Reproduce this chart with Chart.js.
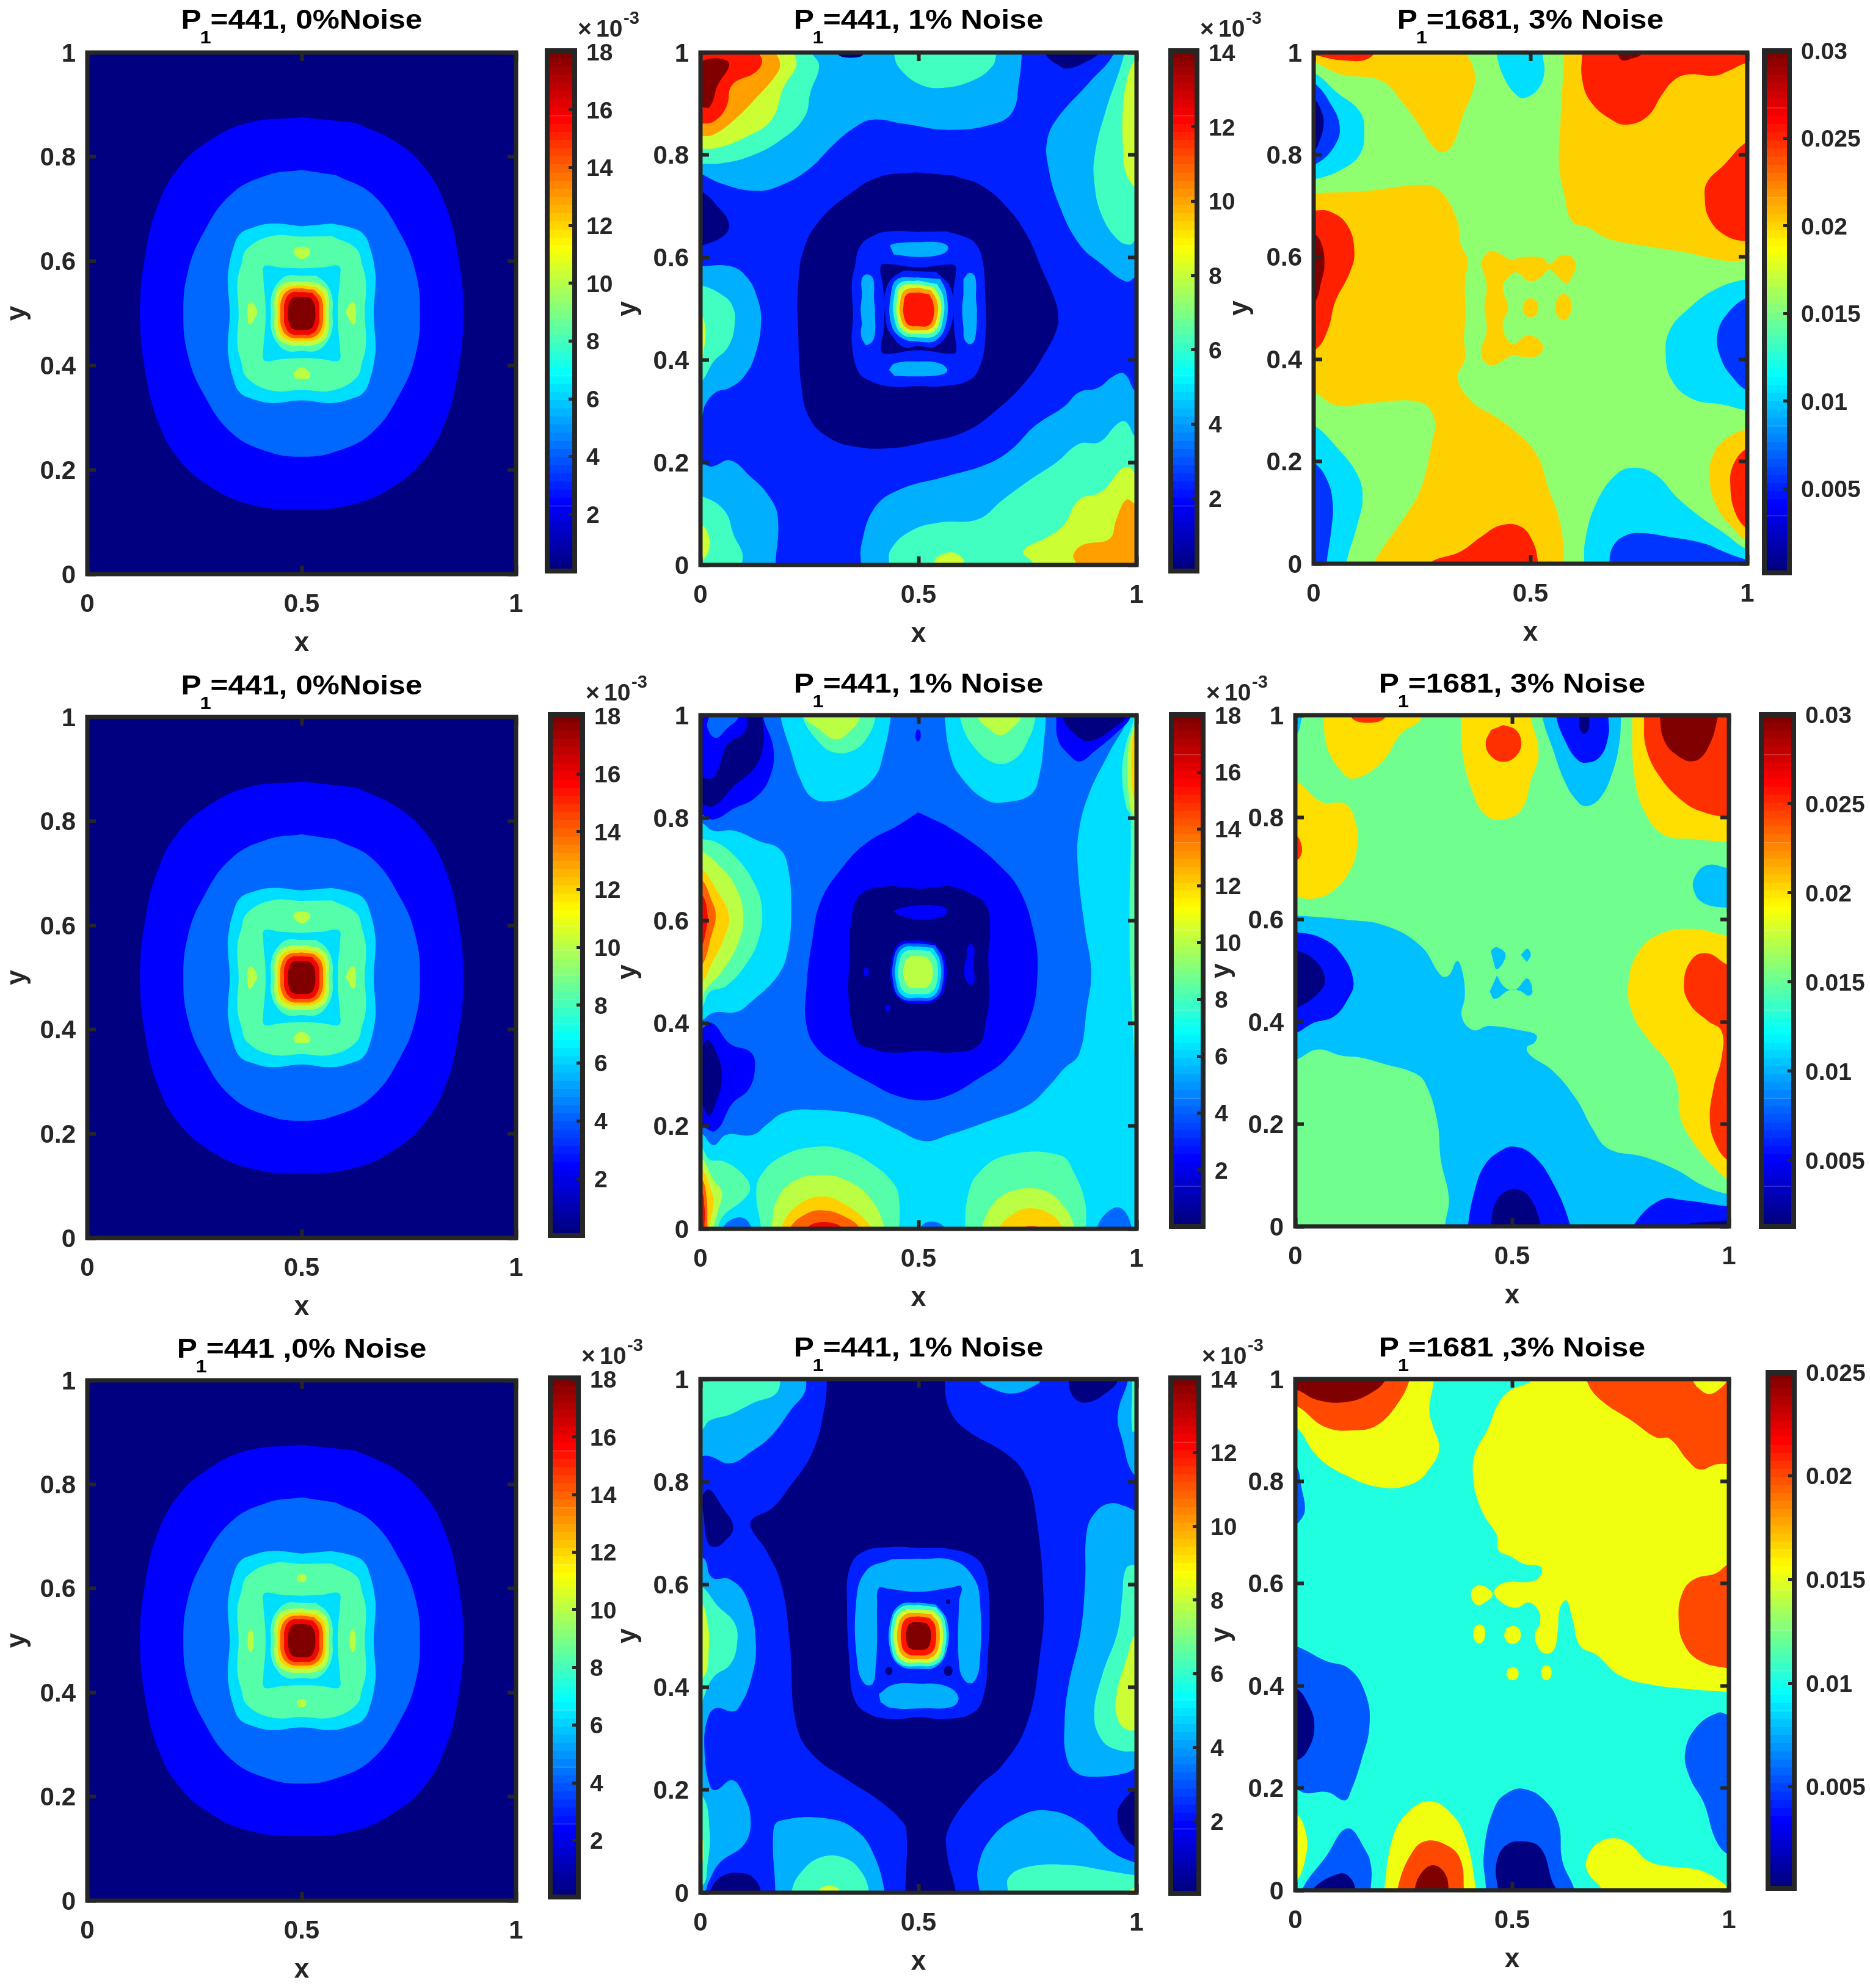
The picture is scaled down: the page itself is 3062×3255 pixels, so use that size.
<!DOCTYPE html>
<html><head><meta charset="utf-8">
<style>html,body{margin:0;padding:0;background:#fff}#page{position:relative;width:3062px;height:3255px;overflow:hidden}canvas{position:absolute}</style>
<script src="https://cdn.jsdelivr.net/npm/chart.js@4/dist/chart.umd.js"></script>
</head><body><div id="page"></div>
<script>
// ---------- tick labels ----------
const xTicks=[0,0.5,1];
const yTicks=[0,0.2,0.4,0.6,0.8,1];
const barTicksA=[2,4,6,8,10,12,14,16,18];
const barTicksB=[2,4,6,8,10,12,14];
const barTicksC=[0.005,0.01,0.015,0.02,0.025,0.03];
const barTicksD=[0.005,0.01,0.015,0.02,0.025];
// ---------- titles: text before subscript, subscript, text after ----------
const titles=[
 ['P','1','=441, 0%Noise'],['P','1','=441, 1% Noise'],['P','1','=1681, 3% Noise'],
 ['P','1','=441, 0%Noise'],['P','1','=441, 1% Noise'],['P','1','=1681, 3% Noise'],
 ['P','1','=441 ,0% Noise'],['P','1','=441, 1% Noise'],['P','1','=1681 ,3% Noise']];
// ---------- contour level colours ----------
const colorsA=['#000080','#0000ff','#0068ff','#00deff','#55ffaa','#bbff44','#ffd000','#ff6000','#f00800','#800000'];
const colorsB=['#000080','#0020ff','#00b0ff','#40ffc0','#ccff33','#ff9f00','#ff1500','#800000'];
const colorsC=['#000080','#0034ff','#00dfff','#90ff6f','#ffd000','#ff2000','#800000'];
const colorsF=['#000080','#0010ff','#00c0ff','#70ff8f','#ffdf00','#ff3000','#800000'];
const colorsI=['#000080','#0058ff','#20ffdf','#f0ff10','#ff4800','#800000'];

function dot(cx,cy,rx,ry){const a=.72;return [cx,cy+ry,cx+a*rx,cy+a*ry,cx+rx,cy,cx+a*rx,cy-a*ry,cx,cy-ry,cx-a*rx,cy-a*ry,cx-rx,cy,cx-a*rx,cy+a*ry];}
function mirror4(q){const p=[];for(let i=0;i<q.length;i+=2)p.push([q[i],q[i+1]]);
 const ll=p.slice(0,-1).reverse().map(([x,y])=>[x,1-y]);
 const lr=p.slice(1).map(([x,y])=>[1-x,1-y]);
 const ur=p.slice(1,-1).reverse().map(([x,y])=>[1-x,y]);
 return p.concat(ll,lr,ur).flat();}

// ---------- noise-free field: quarter outlines (top centre to left centre) ----------
const q1=[.5,.876,.374,.865,.277,.827,.21,.776,.167,.712,.138,.625,.123,.5];
const q2=[.5,.775,.42,.765,.335,.728,.268,.65,.234,.578,.224,.5];
const q3=[.5,.667,.43,.672,.385,.664,.356,.652,.34,.624,.329,.582,.328,.554,.332,.5];
const q4=[.5,.647,.43,.648,.373,.624,.359,.593,.35,.558,.353,.5];
const q4hole=[.5,.586,.45,.588,.418,.592,.41,.587,.41,.574,.416,.5];
const q4in=[.5,.572,.466,.572,.442,.556,.429,.531,.428,.5];
const q5=[.5,.562,.461,.558,.44,.541,.437,.5];
const q6=[.5,.554,.466,.55,.448,.535,.444,.5];
const q7=[.5,.548,.471,.545,.454,.529,.45,.5];
const q8=[.5,.541,.475,.539,.461,.523,.459,.5];
const q9=[.5,.532,.48,.53,.471,.519,.468,.5];
const baseRings=[[1,mirror4(q1)],[2,mirror4(q2)],[3,mirror4(q3)],[4,mirror4(q4)],[3,mirror4(q4hole)]];
const coreRings=[[4,mirror4(q4in)],[5,mirror4(q5)],[6,mirror4(q6)],[7,mirror4(q7)],[8,mirror4(q8)],[9,mirror4(q9)]];
const bigSpots=[
 [5,[.48,.616,.485,.625,.515,.625,.52,.616,.51,.607,.5,.604,.49,.607]],
 [5,[.48,.384,.49,.393,.5,.396,.51,.393,.52,.384,.515,.375,.485,.375]],
 [5,[.373,.5,.376,.518,.383,.522,.396,.503,.39,.49,.38,.478,.375,.482]],
 [5,[.627,.5,.624,.518,.617,.522,.604,.503,.61,.49,.62,.478,.625,.482]]];
const smallSpots=[[5,dot(.5,.62,.011,.008)],[5,dot(.5,.38,.011,.008)],[5,dot(.381,.5,.007,.023)],[5,dot(.619,.5,.007,.023)]];
const field1=[...baseRings,...bigSpots,...coreRings];
const field4=field1;
const field7=[...baseRings,...smallSpots,...coreRings];

// ---------- panel 2 ----------
const field2=[
 [2,[0,.764,.049,.744,.125,.73,.182,.74,.248,.772,.305,.82,.352,.853,.395,.869,.465,.861,.57,.849,.674,.861,.716,.885,.73,.941,.737,.998,.737,1.03,-.03,1.03,-.03,.764]],
 [3,[0,.783,.049,.784,.115,.798,.182,.828,.238,.873,.253,.925,.272,.973,.257,.996,.22,1.03,-.03,1.03,-.03,.783]],
 [4,[0,.812,.04,.814,.106,.836,.163,.869,.191,.933,.219,.973,.215,1.0,.205,1.03,-.03,1.03,-.03,.812]],
 [5,[0,.836,.03,.84,.078,.869,.125,.909,.177,.961,.182,.981,.172,1.0,.16,1.03,-.03,1.03,-.03,.836]],
 [6,[0,.861,.03,.865,.059,.893,.073,.937,.125,.961,.141,.981,.134,1.0,.125,1.03,-.03,1.03,-.03,.861]],
 [7,[-.03,.894,0,.894,.021,.894,.04,.937,.066,.977,.044,.988,.011,.986,0,.981,-.03,.981]],
 [0,[.31,1.03,.314,.998,.345,.99,.375,.998,.375,1.03]],
 [3,[.444,1.03,.444,.998,.456,.97,.503,.938,.555,.931,.626,.946,.669,.973,.678,.998,.678,1.03]],
 [0,[.785,1.03,.792,.996,.825,.973,.844,.969,.882,.981,.915,1.0,.925,1.03]],
 [2,[.948,1.03,.948,.998,.891,.941,.816,.869,.795,.828,.797,.78,.82,.708,.868,.627,.92,.587,.976,.553,1,.562,1.03,.562,1.03,1.03]],
 [3,[.972,1.03,.972,.998,.929,.885,.905,.804,.903,.748,.92,.683,.957,.635,.986,.625,1,.635,1.03,.635,1.03,1.03]],
 [4,[1,1.03,1,.998,.981,.957,.969,.893,.969,.812,.976,.764,1,.736,1.03,.736,1.03,1.03]],
 [0,[-.03,.73,0,.73,.04,.699,.065,.667,.054,.643,0,.623,-.03,.623]],
 [2,[-.03,.583,0,.583,.068,.583,.106,.562,.13,.522,.139,.474,.125,.409,.101,.369,.068,.346,.035,.337,.011,.313,0,.288,-.03,.288]],
 [3,[-.03,.546,0,.546,.044,.53,.073,.506,.078,.466,.063,.425,.03,.397,0,.357,-.03,.357]],
 [4,[-.03,.49,0,.49,.011,.458,.007,.417,0,.401,-.03,.401]],
 [2,[-.03,.2,0,.2,.026,.192,.068,.204,.115,.172,.153,.139,.177,.095,.172,0,.172,-.03,-.03,-.03]],
 [3,[-.03,.135,0,.135,.054,.107,.078,.055,.096,.023,.095,0,.095,-.03,-.03,-.03]],
 [4,[-.03,.079,0,.079,.016,.063,.021,.035,0,.006,-.03,.006]],
 [2,[.368,-.03,.368,0,.369,.039,.399,.111,.456,.147,.56,.172,.655,.196,.711,.224,.768,.272,.834,.309,.868,.337,.91,.345,.948,.369,.972,.373,1,.337,1.03,.337,1.03,-.03]],
 [3,[.432,-.03,.432,0,.437,.031,.484,.067,.551,.083,.636,.089,.693,.127,.759,.168,.816,.2,.868,.236,.915,.24,.957,.276,.976,.279,1,.248,1.03,.248,1.03,-.03]],
 [4,[.763,-.03,.763,.002,.74,.027,.797,.055,.834,.079,.868,.127,.92,.143,.967,.188,.986,.19,1,.176,1.03,.176,1.03,-.03]],
 [4,[.536,-.03,.536,.006,.555,.021,.584,.023,.605,.006,.605,-.03]],
 [5,[.863,-.03,.863,0,.855,.019,.877,.039,.938,.051,.953,.087,.976,.127,1,.119,1.03,.119,1.03,-.03]],
 [0,[.494,.766,.409,.757,.342,.724,.276,.675,.238,.619,.224,.546,.224,.458,.231,.353,.249,.288,.295,.248,.361,.23,.437,.228,.513,.239,.607,.26,.683,.305,.749,.361,.787,.409,.816,.458,.82,.49,.811,.522,.782,.579,.749,.643,.702,.699,.645,.74,.579,.76]],
 [1,[.499,.65,.438,.651,.4,.644,.366,.622,.354,.582,.347,.55,.35,.486,.347,.435,.361,.379,.387,.36,.438,.348,.499,.349,.555,.349,.615,.36,.639,.384,.653,.439,.653,.527,.646,.598,.629,.629,.606,.64,.564,.651]],
 [2,[.367,.499,.37,.527,.37,.558,.382,.567,.396,.558,.398,.518,.4,.494,.398,.443,.382,.429,.373,.437,.368,.45,.37,.471]],
 [2,[.603,.558,.617,.57,.63,.562,.632,.518,.634,.494,.63,.443,.62,.431,.606,.439,.603,.463,.6,.499,.603,.527]],
 [2,[.434,.624,.452,.628,.499,.63,.55,.629,.568,.62,.555,.607,.499,.601,.443,.606]],
 [2,[.432,.381,.445,.393,.499,.397,.55,.393,.566,.379,.55,.371,.499,.368,.445,.369]],
 [0,[.414,.586,.424,.588,.499,.581,.578,.586,.586,.578,.58,.534,.582,.459,.587,.419,.58,.412,.499,.419,.422,.412,.414,.421,.421,.467,.42,.534,.412,.574]],
 [1,[.499,.573,.461,.572,.426,.54,.426,.471,.436,.451,.466,.425,.499,.427,.541,.427,.576,.471,.575,.538,.541,.572]],
 [2,[.499,.561,.452,.558,.437,.53,.437,.471,.461,.443,.499,.436,.541,.439,.564,.475,.564,.53,.55,.558]],
 [3,[.499,.555,.457,.55,.444,.523,.444,.483,.461,.451,.499,.444,.541,.449,.557,.483,.557,.523,.543,.548]],
 [4,[.499,.548,.461,.544,.451,.518,.451,.483,.466,.457,.499,.451,.536,.456,.55,.483,.55,.518,.536,.542]],
 [5,[.499,.541,.469,.536,.458,.514,.458,.487,.471,.463,.499,.458,.531,.463,.543,.487,.543,.514,.529,.536]],
 [6,[.499,.532,.473,.528,.466,.51,.467,.483,.478,.468,.499,.466,.522,.467,.534,.483,.534,.51,.525,.528]]
];

// ---------- panel 3 ----------
const field3=[
 [4,[.578,1.03,.578,1,.569,.86,.566,.779,.578,.723,.596,.67,.633,.658,.679,.636,.761,.622,.853,.61,.954,.592,1,.594,1.03,.594,1.03,1.03]],
 [5,[.619,1.03,.619,.998,.619,.949,.638,.905,.688,.868,.725,.859,.771,.876,.803,.917,.83,.945,.862,.957,.927,.955,.959,.965,1,.98,1.03,.98,1.03,1.03]],
 [6,[.7,1.03,.702,.998,.711,.985,.729,.987,.757,.998,.77,1.03]],
 [5,[1.03,.826,1,.826,.945,.779,.908,.747,.902,.715,.913,.674,.95,.642,1,.63,1.03,.63]],
 [4,[-.03,.981,0,.981,.064,.957,.156,.945,.206,.901,.248,.852,.275,.816,.298,.805,.321,.82,.344,.876,.372,.941,.367,.973,.353,1,.353,1.03,-.03,1.03]],
 [5,[-.03,.995,0,.995,.064,.985,.13,.99,.145,1.03,-.03,1.03]],
 [2,[-.03,.961,0,.961,.055,.921,.106,.885,.117,.844,.106,.8,.064,.771,.007,.753,-.03,.75]],
 [1,[-.03,.941,0,.941,.041,.897,.06,.856,.05,.82,.009,.784,-.03,.78]],
 [0,[-.03,.909,0,.909,.018,.885,.023,.86,.014,.828,0,.808,-.03,.808]],
 [2,[.422,1.03,.422,.998,.44,.949,.468,.917,.486,.911,.518,.929,.532,.961,.528,.998,.528,1.03]],
 [4,[-.03,.725,0,.725,.119,.729,.257,.741,.294,.727,.33,.674,.339,.626,.355,.594,.349,.553,.35,.489,.347,.44,.349,.4,.332,.363,.367,.315,.413,.291,.459,.263,.514,.214,.541,.149,.569,.077,.578,0,.578,-.03,.138,-.03,.138,0,.211,.093,.248,.149,.275,.246,.28,.279,.248,.315,.138,.315,.055,.309,0,.335,-.03,.335]],
 [5,[-.03,.691,0,.691,.037,.689,.078,.662,.094,.61,.083,.569,.05,.513,.032,.456,.005,.42,-.03,.42]],
 [6,[-.03,.646,0,.646,.018,.626,.025,.586,.018,.553,0,.509,-.03,.509]],
 [4,[.39,.598,.408,.612,.431,.606,.454,.595,.486,.6,.528,.598,.543,.586,.569,.602,.592,.602,.604,.586,.598,.565,.583,.549,.56,.565,.543,.576,.523,.56,.497,.553,.468,.57,.45,.561,.436,.541,.448,.501,.436,.464,.459,.43,.495,.447,.528,.428,.519,.408,.486,.404,.459,.408,.413,.388,.39,.4,.387,.42,.399,.456,.394,.505,.399,.545,.385,.586]],
 [4,dot(.5,.501,.018,.019)],
 [4,dot(.576,.503,.018,.026)],
 [2,[-.03,.271,0,.271,.055,.226,.101,.174,.113,.129,.101,.077,.075,0,.075,-.03,-.03,-.03]],
 [1,[-.03,.198,0,.198,.032,.162,.044,.117,.041,.069,.03,0,.03,-.03,-.03,-.03]],
 [5,[.266,-.03,.266,0,.339,.024,.385,.052,.431,.075,.477,.073,.505,.044,.518,0,.518,-.03]],
 [2,[1.03,.557,1,.557,.927,.537,.862,.497,.821,.456,.812,.408,.826,.359,.872,.323,.945,.311,1,.3,1.03,.3]],
 [1,[1.03,.521,1,.521,.954,.489,.931,.448,.94,.4,.968,.363,1,.339,1.03,.339]],
 [4,[1.03,.263,1,.263,.954,.246,.922,.214,.913,.166,.931,.109,.968,.069,1,.044,1.03,.044]],
 [5,[1.03,.226,1,.226,.968,.194,.961,.153,.972,.101,1,.069,1.03,.069]],
 [2,[.624,-.03,.624,0,.626,.044,.651,.117,.697,.174,.739,.188,.789,.174,.839,.129,.89,.093,.945,.061,1,.028,1.03,.028,1.03,-.03]],
 [1,[.682,-.03,.682,0,.689,.032,.716,.054,.752,.06,.817,.053,.899,.04,.945,.024,1,.008,1.03,.008,1.03,-.03]]
];

// ---------- panel 5 ----------
const field5=[
 [3,[-.03,.187,0,.187,.03,.163,.059,.183,.12,.183,.153,.204,.191,.226,.257,.232,.38,.22,.447,.195,.513,.171,.57,.183,.655,.208,.75,.24,.797,.276,.834,.312,.868,.34,.886,.429,.896,.501,.882,.582,.865,.71,.868,.775,.891,.847,.938,.928,.981,.996,.981,1.03,1.03,1.03,1.03,-.03,-.03,-.03]],
 [4,[.995,1.03,.995,.996,.976,.944,.967,.887,.976,.823,.986,.803,.984,.614,.986,.485,.997,.316,1,.292,1.03,.292,1.03,1.03]],
 [5,[1,1.03,1,.996,.981,.936,.981,.855,.995,.803,1.03,.803,1.03,1.03]],
 [6,[1,1.03,1,.992,.99,.952,.99,.863,1,.831,1.03,.831,1.03,1.03]],
 [3,[.184,1.03,.184,.996,.205,.936,.229,.875,.257,.839,.3,.833,.352,.847,.399,.879,.418,.919,.437,1,.437,1.03]],
 [4,[.234,1.03,.234,.996,.267,.952,.304,.928,.352,.932,.385,.96,.401,.996,.401,1.03]],
 [5,[.238,1.03,.238,.996,.267,.976,.309,.953,.342,.968,.366,.996,.366,1.03]],
 [3,[.56,1.03,.56,.996,.574,.919,.598,.879,.655,.835,.702,.831,.759,.847,.778,.887,.787,.944,.792,.996,.792,1.03]],
 [4,[.595,1.03,.595,.996,.622,.944,.674,.907,.721,.915,.754,.956,.768,.996,.768,1.03]],
 [5,[.636,1.03,.636,.996,.664,.972,.688,.961,.716,.976,.735,.996,.735,1.03]],
 [3,[-.03,.791,0,.791,.03,.775,.078,.775,.134,.755,.182,.739,.201,.702,.208,.622,.2,.541,.177,.493,.115,.441,.082,.422,.03,.421,0,.405,-.03,.405]],
 [4,[-.03,.759,0,.759,.04,.751,.087,.718,.125,.67,.141,.622,.134,.566,.106,.517,.059,.473,.021,.461,0,.429,-.03,.429]],
 [5,[-.03,.735,0,.735,.04,.71,.078,.67,.098,.614,.087,.558,.049,.501,.011,.465,0,.445,-.03,.445]],
 [6,[-.03,.702,0,.702,.035,.662,.065,.61,.054,.566,.026,.517,0,.477,-.03,.477]],
 [7,[-.03,.682,0,.682,.026,.638,.035,.61,.026,.574,0,.509,-.03,.509]],
 [8,[-.03,.654,0,.654,.016,.614,.011,.574,0,.55,-.03,.55]],
 [1,[.144,1.03,.144,.996,.167,.936,.159,.879,.125,.839,.078,.819,.03,.797,0,.807,-.03,.807,-.03,1.03]],
 [0,[-.03,.827,0,.827,.03,.823,.078,.863,.125,.899,.144,.944,.142,.996,.142,1.03,.106,1.03,.106,.996,.102,.968,.063,.944,.044,.904,.03,.879,0,.878,-.03,.878]],
 [2,[.019,1.03,.019,.996,.016,.976,.035,.956,.063,.976,.087,.996,.087,1.03]],
 [1,[-.03,.389,0,.389,.026,.401,.068,.36,.115,.344,.125,.316,.111,.272,.073,.244,.035,.191,0,.2,-.03,.2]],
 [0,[-.03,.352,0,.352,.016,.368,.04,.336,.049,.292,.035,.244,.019,.22,0,.244,-.03,.244]],
 [1,[.816,1.03,.816,.996,.82,.952,.844,.924,.87,.91,.901,.928,.957,.968,.986,.996,.986,1.03]],
 [0,[.83,1.03,.83,.996,.863,.96,.896,.95,.962,.984,.976,.996,.976,1.03]],
 [1,[.499,.811,.456,.787,.38,.751,.324,.702,.276,.638,.257,.566,.243,.469,.243,.397,.267,.352,.324,.316,.39,.284,.447,.26,.513,.25,.57,.26,.636,.292,.702,.332,.754,.405,.773,.501,.763,.582,.73,.662,.683,.71,.626,.751,.56,.787]],
 [0,[.503,.662,.418,.666,.366,.65,.347,.606,.342,.533,.341,.437,.361,.364,.39,.352,.437,.343,.513,.347,.57,.343,.636,.356,.655,.405,.662,.453,.66,.533,.664,.582,.655,.63,.617,.654,.57,.668]],
 [1,[.442,.618,.456,.624,.503,.63,.56,.626,.565,.616,.551,.607,.503,.602,.456,.61]],
 [1,[.619,.558,.628,.545,.626,.517,.628,.481,.619,.475,.607,.489,.605,.509,.611,.529,.611,.545]],
 [1,dot(.38,.5,.006,.009)],[1,dot(.43,.43,.006,.006)],[1,dot(.499,.961,.006,.012)],
 [1,[.499,.562,.456,.556,.439,.525,.439,.473,.461,.445,.499,.438,.536,.443,.56,.469,.56,.53,.536,.556]],
 [2,[.499,.556,.46,.552,.443,.525,.443,.475,.46,.449,.499,.444,.538,.449,.555,.475,.555,.525,.538,.552]],
 [3,[.499,.55,.465,.547,.449,.522,.449,.478,.465,.453,.499,.45,.533,.453,.549,.478,.549,.522,.533,.547]],
 [4,[.499,.543,.47,.54,.456,.52,.456,.48,.47,.46,.499,.457,.528,.46,.542,.48,.542,.52,.528,.54]],
 [5,[.499,.531,.478,.529,.467,.512,.467,.487,.478,.471,.499,.469,.52,.471,.531,.487,.531,.512,.52,.529]],
 [4,[-.03,.159,0,.159,.021,.135,.054,.131,.096,.107,.114,.079,.096,.055,.054,.027,.04,0,.04,-.03,-.03,-.03]],
 [5,[-.03,.139,0,.139,.03,.095,.049,.071,.04,.035,.03,0,.03,-.03,-.03,-.03]],
 [6,[-.03,.119,0,.119,.021,.083,.03,.051,.019,0,.019,-.03,-.03,-.03]],
 [7,[-.03,.099,0,.099,.013,.067,.016,0,.016,-.03,-.03,-.03]],
 [8,[-.03,.075,0,.075,.009,.043,.009,0,.009,-.03,-.03,-.03]],
 [4,[.139,-.03,.139,0,.128,.075,.144,.111,.191,.143,.257,.159,.324,.155,.399,.123,.447,.083,.456,.051,.456,0,.456,-.03]],
 [5,[.163,-.03,.163,0,.177,.059,.219,.095,.276,.105,.333,.095,.39,.059,.423,0,.423,-.03]],
 [6,[.184,-.03,.184,0,.219,.043,.276,.063,.333,.047,.394,0,.394,-.03]],
 [7,[.205,-.03,.205,0,.238,.027,.281,.036,.333,.023,.366,0,.366,-.03]],
 [8,[.243,-.03,.243,0,.281,.013,.328,0,.328,-.03]],
 [4,[.607,-.03,.607,0,.612,.059,.636,.107,.702,.143,.825,.143,.858,.107,.882,.051,.884,0,.884,-.03]],
 [5,[.645,-.03,.645,0,.674,.051,.721,.075,.787,.075,.834,.043,.858,0,.858,-.03]],
 [6,[.683,-.03,.683,0,.721,.031,.759,.04,.806,.027,.83,0,.83,-.03]],
 [7,[.74,-.03,.74,0,.759,.006,.778,0,.778,-.03]],
 [2,[.051,-.03,.051,0,.073,.019,.101,.02,.117,0,.117,-.03]],
 [2,[.503,-.03,.503,0,.527,.014,.56,.002,.56,-.03]],
 [2,[.908,-.03,.908,0,.938,.036,.967,.039,.99,0,.99,-.03]]
];

// ---------- panel 6 ----------
const field6=[
 [2,[-.03,.608,0,.608,.116,.6,.208,.588,.29,.548,.336,.491,.354,.491,.373,.519,.385,.499,.391,.451,.384,.41,.41,.384,.446,.392,.529,.382,.556,.374,.552,.36,.534,.35,.543,.334,.593,.305,.648,.249,.685,.192,.722,.152,.804,.136,.878,.111,.942,.079,1,.063,1.03,.063,1.03,-.03,.345,-.03,.345,0,.354,.055,.336,.128,.327,.208,.299,.281,.272,.301,.208,.317,.152,.33,.107,.334,.051,.346,0,.326,-.03,.326]],
 [1,[-.03,.576,0,.576,.061,.564,.107,.532,.134,.479,.12,.443,.088,.41,.042,.398,0,.378,-.03,.378]],
 [0,[-.03,.54,0,.54,.042,.523,.068,.487,.056,.459,0,.426,-.03,.426]],
 [1,[.398,-.03,.398,0,.414,.071,.437,.12,.474,.148,.506,.156,.547,.14,.593,.087,.635,0,.635,-.03]],
 [0,[.451,-.03,.451,0,.465,.051,.501,.073,.538,.059,.567,0,.567,-.03]],
 [1,[.779,-.03,.779,0,.841,.051,.896,.051,1,.039,1.03,.039,1.03,-.03]],
 [0,[.905,-.03,.905,.002,.942,.008,1,.012,1.03,.012,1.03,-.03]],
 [2,[-.03,1.03,.015,1.03,.012,.983,0,.961,-.03,.96]],
 [4,[.065,1.03,.065,.996,.074,.936,.102,.895,.134,.876,.198,.907,.244,.964,.29,.992,.3,1.03]],
 [5,[.129,1.03,.129,.996,.166,.985,.208,.996,.208,1.03]],
 [4,[-.03,.872,0,.872,.061,.83,.116,.826,.139,.79,.143,.75,.129,.701,.088,.657,.042,.641,0,.645,-.03,.645]],
 [5,[-.03,.766,0,.766,.015,.742,.01,.721,0,.717,-.03,.717]],
 [4,[.382,1.03,.382,.996,.387,.919,.41,.847,.437,.806,.474,.796,.52,.814,.543,.871,.561,.927,.543,.996,.543,1.03]],
 [5,[.48,.981,.509,.971,.521,.945,.509,.92,.48,.909,.451,.92,.439,.945,.451,.971]],
 [2,[.57,1.03,.57,.996,.593,.936,.621,.871,.648,.834,.671,.822,.703,.838,.731,.887,.747,.944,.751,.996,.751,1.03]],
 [1,[.602,1.03,.602,.996,.621,.952,.648,.915,.671,.907,.703,.919,.722,.96,.722,.996,.722,1.03]],
 [0,[.655,1.03,.655,.996,.657,.972,.666,.964,.676,.972,.678,.996,.678,1.03]],
 [4,[.777,1.03,.777,.996,.781,.887,.804,.814,.85,.766,.915,.758,1,.752,1.03,.752,1.03,1.03]],
 [5,[.804,1.03,.804,.996,.809,.936,.841,.879,.896,.83,.942,.81,1,.8,1.03,.8,1.03,1.03]],
 [6,[.841,1.03,.841,.996,.85,.952,.878,.923,.919,.91,.951,.935,.974,.996,.974,1.03]],
 [2,[1.03,.701,1,.701,.951,.707,.922,.685,.919,.657,.942,.632,1,.623,1.03,.623]],
 [4,[1.03,.568,1,.568,.915,.582,.841,.572,.791,.536,.768,.475,.777,.418,.814,.366,.859,.321,.882,.273,.887,.216,.915,.168,.961,.12,1,.091,1.03,.091]],
 [5,[1.03,.511,1,.511,.951,.534,.915,.523,.896,.475,.91,.435,.951,.402,.983,.382,.983,.33,.965,.273,.956,.208,.97,.16,1,.128,1.03,.128]],
 [2,[.451,.54,.465,.546,.485,.531,.465,.503,.454,.527]],
 [2,[.52,.531,.535,.543,.543,.531,.534,.517]],
 [2,[.465,.491,.48,.47,.495,.463,.51,.464,.535,.485,.547,.459,.538,.451,.52,.46,.505,.463,.49,.461,.46,.445,.448,.459]]
];

// ---------- panel 8 ----------
const field8=[
 [0,[.29,1.03,.29,1,.285,.947,.257,.858,.2,.785,.163,.748,.12,.728,.115,.712,.153,.663,.186,.598,.205,.485,.219,.33,.257,.269,.342,.217,.409,.18,.465,.136,.473,.111,.47,0,.47,-.03,.586,-.03,.586,0,.565,.079,.57,.127,.636,.205,.693,.249,.749,.33,.778,.46,.787,.566,.768,.744,.745,.813,.702,.854,.607,.903,.57,.943,.56,1,.56,1.03]],
 [1,[.503,.671,.437,.673,.371,.663,.342,.631,.336,.566,.342,.444,.352,.379,.38,.351,.437,.338,.503,.342,.56,.338,.626,.351,.65,.387,.659,.46,.662,.566,.65,.631,.617,.659,.56,.671]],
 [2,[.437,.649,.38,.627,.357,.566,.36,.444,.376,.407,.395,.407,.402,.444,.405,.49,.405,.56,.409,.593,.43,.592,.5,.586,.574,.594,.598,.596,.593,.566,.593,.444,.607,.412,.626,.41,.64,.444,.641,.566,.626,.614,.579,.647,.5,.65]],
 [2,[.409,.387,.442,.405,.503,.407,.56,.403,.591,.383,.579,.363,.513,.359,.437,.36,.413,.371]],
 [0,dot(.432,.432,.008,.008)],[0,dot(.568,.432,.01,.01)],[0,dot(.568,.567,.005,.005)],
 [1,[.5,.57,.456,.566,.432,.533,.43,.476,.456,.44,.5,.432,.541,.437,.57,.476,.57,.533,.541,.566]],
 [2,[.5,.565,.458,.561,.436,.53,.435,.473,.458,.442,.5,.436,.54,.44,.565,.473,.565,.53,.54,.561]],
 [3,[.5,.56,.46,.556,.44,.53,.44,.47,.46,.445,.5,.441,.54,.445,.56,.47,.56,.53,.54,.556]],
 [4,[.5,.552,.465,.549,.447,.527,.447,.473,.465,.451,.5,.448,.535,.451,.553,.473,.553,.527,.535,.549]],
 [5,[.5,.545,.47,.542,.454,.522,.454,.478,.47,.458,.5,.455,.53,.458,.546,.478,.546,.522,.53,.542]],
 [6,[.5,.538,.475,.535,.462,.52,.462,.48,.475,.465,.5,.462,.525,.465,.538,.48,.538,.52,.525,.535]],
 [7,[.5,.527,.482,.525,.473,.513,.473,.487,.482,.475,.5,.473,.518,.475,.527,.487,.527,.513,.518,.525]],
 [2,[-.03,.85,0,.85,.021,.85,.068,.836,.115,.858,.163,.89,.21,.943,.238,.972,.243,1,.243,1.03,-.03,1.03]],
 [3,[-.03,.899,0,.899,.021,.919,.068,.931,.125,.955,.172,.971,.184,1,.184,1.03,-.03,1.03]],
 [2,[.636,1.03,.636,1,.673,.98,.716,.972,.759,.984,.782,1,.782,1.03]],
 [0,[.844,1.03,.844,1,.853,.968,.882,.954,.929,.972,.959,1,.959,1.03]],
 [2,[.981,1.03,.981,1,.957,.931,.967,.882,.995,.813,1.03,.813,1.03,1.03]],
 [3,[.99,1.03,.99,.996,.99,.899,1,.899,1.03,.899,1.03,1.03]],
 [0,[0,.769,.019,.785,.049,.752,.075,.712,.054,.683,.032,.673,.016,.683,.007,.736]],
 [2,[-.03,.651,.007,.651,.026,.614,.068,.61,.106,.574,.127,.485,.115,.412,.087,.359,.073,.353,.035,.359,.016,.338,.009,.282,.021,.209,.035,.2,.073,.219,.098,.192,.115,.144,.101,.095,.044,.058,.019,.022,.007,0,-.03,0]],
 [3,[-.03,.598,0,.598,.04,.558,.078,.525,.084,.485,.068,.444,.03,.42,.007,.379,0,.355,-.03,.355]],
 [4,[-.03,.566,0,.566,.016,.525,.019,.476,.007,.42,-.03,.42]],
 [3,[-.03,.188,.005,.188,.021,.119,.016,.054,.005,.014,-.03,.014]],
 [4,[-.03,.111,0,.111,.007,.087,0,.054,-.03,.054]],
 [0,[.021,-.03,.021,0,.049,.032,.096,.038,.125,.026,.139,0,.139,-.03]],
 [2,[.172,-.03,.172,0,.167,.119,.182,.14,.295,.144,.361,.119,.399,.071,.423,0,.423,-.03]],
 [3,[.208,-.03,.208,0,.229,.038,.276,.069,.333,.067,.371,.038,.387,0,.387,-.03]],
 [4,[.267,-.03,.267,0,.295,.014,.324,0,.324,-.03]],
 [2,[.64,-.03,.64,0,.636,.046,.664,.103,.73,.148,.797,.16,.872,.136,.938,.083,1,.058,1.03,.058,1.03,-.03]],
 [3,[.705,-.03,.705,0,.707,.03,.749,.05,.844,.054,.938,.042,1,.034,1.03,.034,1.03,-.03]],
 [4,[.981,-.03,.981,0,1,.01,1.03,.01,1.03,-.03]],
 [2,[1.03,.743,1,.743,.976,.752,.939,.758,.905,.74,.886,.704,.882,.606,.872,.509,.844,.403,.835,.33,.839,.265,.863,.233,.91,.226,.976,.233,1,.243,1.03,.243]],
 [3,[1.03,.639,1,.639,.976,.631,.967,.574,.957,.509,.92,.42,.903,.347,.92,.298,.957,.278,1,.275,1.03,.275]],
 [4,[1.03,.505,1,.505,.976,.452,.953,.379,.957,.338,.976,.318,1,.316,1.03,.316]],
 [0,[1.03,.202,1,.202,.967,.176,.956,.152,.967,.115,1,.088,1.03,.088]]
];

// ---------- panel 9 ----------
const field9=[
 [3,[-.03,.908,0,.908,.051,.849,.116,.812,.198,.788,.272,.796,.313,.829,.332,.865,.318,.906,.309,.939,.32,1,.32,1.03,-.03,1.03]],
 [4,[-.03,.949,0,.949,.07,.906,.143,.9,.189,.91,.235,.951,.264,1,.264,1.03,-.03,1.03]],
 [5,[-.03,.98,0,.98,.051,.959,.116,.955,.171,.971,.209,1,.209,1.03,-.03,1.03]],
 [3,[.549,1.03,.549,1,.492,.976,.465,.947,.446,.906,.414,.853,.41,.808,.419,.767,.437,.731,.465,.694,.469,.665,.497,.653,.529,.638,.566,.633,.566,.616,.543,.604,.483,.602,.458,.584,.483,.559,.511,.553,.538,.563,.561,.547,.564,.522,.552,.498,.57,.465,.595,.469,.605,.506,.61,.551,.625,.567,.639,.531,.657,.478,.694,.461,.749,.42,.823,.402,.915,.393,1,.388,1.03,.388,1.03,1.03]],
 [4,[.671,1.03,.671,1,.699,.963,.777,.918,.832,.886,.864,.883,.905,.841,.933,.823,.97,.833,1,.834,1.03,.834,1.03,1.03]],
 [3,[.916,1.03,.916,1,.933,.98,.956,.971,.983,.984,.996,1,.996,1.03]],
 [4,[1.03,.638,1,.638,.97,.62,.919,.608,.892,.58,.884,.531,.896,.482,.933,.449,1,.434,1.03,.434]],
 [1,[-.03,.478,0,.478,.07,.449,.125,.433,.162,.384,.171,.322,.152,.253,.129,.196,.114,.176,.074,.192,.024,.19,0,.198,-.03,.198]],
 [0,[-.03,.396,0,.396,.028,.367,.044,.322,.028,.273,0,.253,-.03,.253]],
 [1,[-.03,.833,0,.833,.015,.784,.022,.743,.01,.722,0,.717,-.03,.717]],
 [1,[1.03,.343,1,.343,.974,.347,.924,.318,.899,.269,.91,.22,.942,.171,.97,.098,1,.069,1.03,.069]],
 [3,[-.03,.151,0,.151,.024,.114,.024,.065,0,.016,-.03,.016]],
 [1,[.015,-.03,.015,0,.07,.065,.12,.121,.162,.078,.175,.045,.174,0,.174,-.03]],
 [0,[.038,-.03,.038,0,.102,.033,.127,.024,.139,0,.139,-.03]],
 [3,[.205,-.03,.205,0,.226,.106,.263,.155,.309,.174,.354,.155,.391,.106,.417,0,.417,-.03]],
 [4,[.235,-.03,.235,0,.263,.065,.299,.096,.354,.086,.382,.057,.389,0,.389,-.03]],
 [5,[.275,-.03,.275,0,.29,.033,.318,.049,.345,.033,.354,0,.354,-.03]],
 [1,[.44,-.03,.44,0,.435,.073,.46,.163,.492,.192,.529,.198,.575,.176,.607,.131,.616,.057,.644,0,.644,-.03]],
 [0,[.467,-.03,.467,0,.463,.049,.483,.086,.524,.096,.566,.082,.593,.016,.602,0,.602,-.03]],
 [3,[.708,-.03,.708,0,.676,.033,.671,.057,.694,.09,.736,.102,.772,.09,.814,.057,.86,.047,.924,.041,.97,.024,1,0,1,-.03]],
 [3,[.423,.598,.442,.592,.455,.578,.437,.563,.419,.558,.405,.576,.41,.592]],
 [3,dot(.424,.502,.014,.019)],[3,dot(.501,.5,.019,.018)],[3,dot(.501,.424,.014,.013)],[3,dot(.579,.426,.012,.015)]
];

// ---------- figure layout (pixels of the page) ----------
const DARK='#262626';
const panels=[
 {L:143,R:845,T:86,B:940,field:field1,colors:colorsA,base:0,yPad:2},
 {L:1147,R:1861,T:86,B:925,field:field2,colors:colorsB,base:1,yPad:-2},
 {L:2151,R:2861,T:86,B:923,field:field3,colors:colorsC,base:3,yPad:-4},
 {L:143,R:845,T:1174,B:2027,field:field4,colors:colorsA,base:0,yPad:2},
 {L:1147,R:1861,T:1171,B:2012,field:field5,colors:colorsA,base:2,yPad:-2},
 {L:2121,R:2831,T:1171,B:2008,field:field6,colors:colorsF,base:3,yPad:-4},
 {L:143,R:845,T:2260,B:3112,field:field7,colors:colorsA,base:0,yPad:2},
 {L:1147,R:1861,T:2258,B:3099,field:field8,colors:colorsB,base:1,yPad:-2},
 {L:2121,R:2831,T:2258,B:3095,field:field9,colors:colorsI,base:2,yPad:-4}];
const bars=[
 {x0:896,x1:941,y0:83,y1:935,min:.04,max:18.05,ticks:barTicksA,exp:true},
 {x0:1917,x1:1960,y0:83,y1:935,min:.05,max:14.05,ticks:barTicksB,exp:true},
 {x0:2889,x1:2930,y0:83,y1:938,min:.0002,max:.03,ticks:barTicksC,exp:false},
 {x0:901,x1:954,y0:1170,y1:2023,min:.04,max:18.05,ticks:barTicksA,exp:true},
 {x0:1918,x1:1970,y0:1170,y1:2008,min:.02,max:18.02,ticks:barTicksA,exp:true},
 {x0:2884,x1:2937,y0:1170,y1:2008,min:.0013,max:.03,ticks:barTicksC,exp:false},
 {x0:901,x1:947,y0:2256,y1:3106,min:.04,max:18.05,ticks:barTicksA,exp:true},
 {x0:1917,x1:1963,y0:2256,y1:3100,min:.04,max:14.03,ticks:barTicksB,exp:true},
 {x0:2895,x1:2938,y0:2247,y1:3092,min:.0001,max:.025,ticks:barTicksD,exp:false}];

Chart.defaults.font.family='"Liberation Sans", Arial, sans-serif';
Chart.defaults.color=DARK;
const page=document.getElementById('page');
function mk(left,top,w,h){const c=document.createElement('canvas');c.width=w;c.height=h;c.style.left=left+'px';c.style.top=top+'px';c.style.width=w+'px';c.style.height=h+'px';page.appendChild(c);return c;}
function toPts(f){const a=[];for(let i=0;i<f.length;i+=2)a.push({x:f[i],y:f[i+1]});return a;}
function noPad(s){s.paddingLeft=s.paddingRight=s.paddingTop=s.paddingBottom=0;}
const framePlugin={id:'frame',afterDraw(ch,args,o){const a=ch.chartArea,c=ch.ctx;c.save();c.strokeStyle=DARK;c.lineWidth=o.width;c.strokeRect(a.left,a.top,a.right-a.left,a.bottom-a.top);c.restore();}};
const titlePlugin={id:'subTitle',afterDraw(ch,args,o){const a=ch.chartArea,c=ch.ctx,[p,s,r]=o.runs;c.save();c.fillStyle='#000';c.textBaseline='alphabetic';c.textAlign='left';
 const big='bold 44px "Liberation Sans"',small='bold 29px "Liberation Sans"';
 c.font=big;const wp=c.measureText(p).width,wr=c.measureText(r).width;c.font=small;const ws=c.measureText(s).width;
 const stretch=1.13,tot=wp+ws-3+wr;c.translate((a.left+a.right)/2-tot*stretch/2,a.top-o.lift);c.scale(stretch,1);
 let x=0;c.font=big;c.fillText(p,x,0);x+=wp-2;c.font=small;c.fillText(s,x,24);x+=ws-1;c.font=big;c.fillText(r,x,0);c.restore();}};
const expPlugin={id:'barExp',afterDraw(ch,args,o){if(!o.show)return;const a=ch.chartArea,c=ch.ctx;c.save();c.fillStyle=DARK;c.textBaseline='alphabetic';c.textAlign='left';
 const x=a.right+5,y=a.top-23;c.font='bold 39px "Liberation Sans"';c.fillText('\u00d7',x,y);c.fillText('10',x+30,y);c.font='bold 29px "Liberation Sans"';c.fillText('-3',x+75,y-21);c.restore();}};
function tickGrid(len,wid){return {drawOnChartArea:false,drawTicks:true,tickLength:-len,tickWidth:wid,tickColor:DARK,z:1};}
const tickFont={size:42,weight:'bold'};

panels.forEach((P,i)=>{
 const W=P.R-P.L,H=P.B-P.T;
 const c=mk(P.L-143,P.T-86,W+143+30,H+86+140);
 const regions=[[P.base,[-.03,-.03,1.03,-.03,1.03,1.03,-.03,1.03]],...P.field];
 const datasets=regions.map(([lv,f],k)=>({data:toPts(f),showLine:true,fill:'shape',backgroundColor:P.colors[lv],borderColor:P.colors[lv],borderWidth:0,pointRadius:0,tension:k?0.42:0,order:regions.length-k})).reverse();
 new Chart(c.getContext('2d'),{type:'scatter',data:{datasets},plugins:[framePlugin,titlePlugin],options:{
  responsive:false,animation:false,events:[],devicePixelRatio:1,layout:{padding:0},
  elements:{line:{capBezierPoints:false}},
  plugins:{legend:{display:false},tooltip:{enabled:false},title:{display:false},frame:{width:7},subTitle:{runs:titles[i],lift:i<3?39:37}},
  scales:{
   x:{type:'linear',position:'bottom',min:0,max:1,afterBuildTicks(s){s.ticks=xTicks.map(v=>({value:v}));},afterFit(s){s.height=140;noPad(s);},
      grid:tickGrid(14,6),border:{display:false},ticks:{padding:39,font:tickFont,color:DARK,maxRotation:0,autoSkip:false,callback:v=>String(v)},
      title:{display:true,text:'x',font:{size:44,weight:'bold'},color:DARK,padding:0}},
   y:{type:'linear',position:'left',min:0,max:1,afterBuildTicks(s){s.ticks=yTicks.map(v=>({value:v}));},afterFit(s){s.width=143;noPad(s);},
      grid:tickGrid(14,6),border:{display:false},ticks:{padding:33,labelOffset:3,font:tickFont,color:DARK,autoSkip:false,callback:v=>String(v)},
      title:{display:true,text:'y',font:{size:44,weight:'bold'},color:DARK,padding:{top:P.yPad,bottom:0}}},
   xTop:{type:'linear',axis:'x',position:'top',min:0,max:1,afterBuildTicks(s){s.ticks=xTicks.map(v=>({value:v}));},afterFit(s){s.height=86;noPad(s);},
      grid:tickGrid(14,6),border:{display:false},ticks:{display:false}},
   yRight:{type:'linear',axis:'y',position:'right',min:0,max:1,afterBuildTicks(s){s.ticks=yTicks.map(v=>({value:v}));},afterFit(s){s.width=30;noPad(s);},
      grid:tickGrid(14,6),border:{display:false},ticks:{display:false}}
  }}});
});

function jet(i){const t=i/63,f=v=>Math.round(255*Math.max(0,Math.min(1,1.5-Math.abs(4*t-v))));return `rgb(${f(3)},${f(2)},${f(1)})`;}
bars.forEach(B=>{
 const w=B.x1-B.x0,h=B.y1-B.y0;
 const c=mk(B.x0-10,B.y0-70,w+10+170,h+70+30);
 const step=(B.max-B.min)/64;
 const datasets=[];
 for(let i=0;i<64;i++){const col=jet(i);datasets.push({data:[[B.min+i*step,B.min+(i+1)*step]],backgroundColor:col,borderColor:col,borderWidth:1,borderSkipped:false,barPercentage:1,categoryPercentage:1,grouped:false});}
 new Chart(c.getContext('2d'),{type:'bar',data:{labels:[''],datasets},plugins:[framePlugin,expPlugin],options:{
  responsive:false,animation:false,events:[],devicePixelRatio:1,layout:{padding:{left:10,top:70,bottom:30,right:0}},
  plugins:{legend:{display:false},tooltip:{enabled:false},title:{display:false},frame:{width:8},barExp:{show:B.exp}},
  scales:{
   x:{display:false,stacked:false},
   y:{type:'linear',position:'right',min:B.min,max:B.max,afterBuildTicks(s){s.ticks=B.ticks.map(v=>({value:v}));},afterFit(s){s.width=170;noPad(s);},
      grid:tickGrid(10,5),border:{display:false},ticks:{padding:29,labelOffset:3,font:{size:39,weight:'bold'},color:DARK,autoSkip:false,callback:v=>String(v)}}
  }}});
});
</script></body></html>
